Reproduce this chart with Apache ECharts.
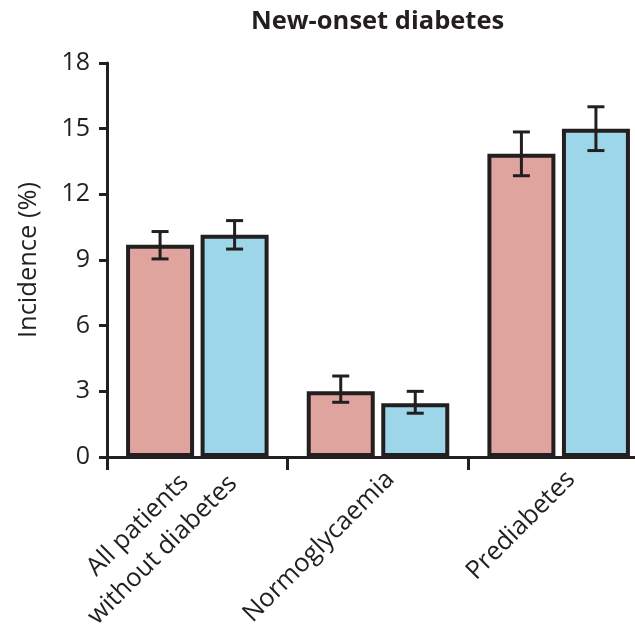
<!DOCTYPE html>
<html>
<head>
<meta charset="utf-8">
<title>New-onset diabetes</title>
<script src="https://cdn.jsdelivr.net/npm/echarts@6/dist/echarts.min.js"></script>
<style>
  html, body { margin: 0; padding: 0; background: #fff; }
  #chart { width: 635px; height: 625px; }
</style>
</head>
<body>
<div id="chart"></div>
<script>
// Subgroups on the x axis
const categories = ['All patients\nwithout diabetes', 'Normoglycaemia', 'Prediabetes'];

// Incidence of new-onset diabetes (%) for the two groups, with 95% CI bounds
const groupA = [9.7, 3.0, 13.85];
const groupALow = [9.05, 2.5, 12.85];
const groupAHigh = [10.3, 3.7, 14.85];

const groupB = [10.15, 2.45, 15.0];
const groupBLow = [9.5, 2.0, 14.0];
const groupBHigh = [10.8, 3.0, 16.0];

// Y axis scale
const yMin = 0;
const yMax = 18;
const yStep = 3;

const INK = '#231F20';
const FONT = 'Open Sans';
const FONT_SIZE = 25.5;
const LINE_H = 35;
const BAR_W = 68;
const BAR_GAP = 0.096;

function errorSeries(name, low, high, side) {
  const data = low.map((lo, i) => [i, lo, high[i]]);
  return {
    name: name,
    type: 'custom',
    z: 5,
    data: data,
    renderItem: function (params, api) {
      const shift = side * BAR_W * (1 + BAR_GAP) / 2;
      const pLo = api.coord([api.value(0), api.value(1)]);
      const pHi = api.coord([api.value(0), api.value(2)]);
      const x = pLo[0] + shift;
      const cap = 8.5;
      const style = { stroke: INK, lineWidth: 3, fill: null };
      return {
        type: 'group',
        children: [
          { type: 'line', shape: { x1: x, y1: pLo[1], x2: x, y2: pHi[1] }, style: style },
          { type: 'line', shape: { x1: x - cap, y1: pLo[1], x2: x + cap, y2: pLo[1] }, style: style },
          { type: 'line', shape: { x1: x - cap, y1: pHi[1], x2: x + cap, y2: pHi[1] }, style: style }
        ]
      };
    }
  };
}

// Two-line labels are centred line by line and nudged so they sit
// along the same diagonal as the single-line ones.
const xAxisData = categories.map(function (c) {
  if (c.indexOf('\n') < 0) return c;
  return {
    value: c,
    textStyle: { align: 'center', verticalAlign: 'middle', padding: [2 * (LINE_H - 15.6), 172, 0, 0] }
  };
});

const chart = echarts.init(document.getElementById('chart'), null, { renderer: 'canvas' });

chart.setOption({
  animation: false,
  backgroundColor: '#ffffff',
  title: {
    text: 'New-onset diabetes',
    left: 251,
    top: 9,
    padding: 0,
    textStyle: { fontFamily: FONT, fontWeight: 'bold', fontSize: FONT_SIZE, color: INK }
  },
  grid: {
    left: 107, top: 63, bottom: 168, right: -14,
    containLabel: false,
    outerBoundsMode: 'none'
  },
  xAxis: {
    type: 'category',
    data: xAxisData,
    axisLine: { show: true, lineStyle: { color: INK, width: 3 } },
    axisTick: { show: true, length: 13, lineStyle: { color: INK, width: 3 } },
    axisLabel: {
      rotate: 45,
      margin: 6,
      verticalAlign: 'top',
      color: INK,
      fontFamily: FONT,
      fontSize: FONT_SIZE,
      lineHeight: LINE_H,
      interval: 0,
      formatter: function (v) {
        return v.split('\n').map(s => '{c|' + s + '}').join('\n');
      },
      rich: { c: { align: 'center', fontFamily: FONT, fontSize: FONT_SIZE, color: INK, lineHeight: LINE_H } }
    },
    splitLine: { show: false }
  },
  yAxis: {
    type: 'value',
    min: yMin,
    max: yMax,
    interval: yStep,
    name: 'Incidence (%)',
    nameLocation: 'middle',
    nameGap: 65,
    nameTextStyle: { fontFamily: FONT, fontSize: FONT_SIZE, color: INK },
    axisLine: { show: true, lineStyle: { color: INK, width: 3 } },
    axisTick: { show: true, length: 8, lineStyle: { color: INK, width: 3 } },
    axisLabel: { margin: 17, color: INK, fontFamily: FONT, fontSize: 25 },
    splitLine: { show: false }
  },
  series: [
    {
      name: 'Group A',
      type: 'bar',
      data: groupA,
      barWidth: BAR_W,
      barGap: (BAR_GAP * 100) + '%',
      itemStyle: { color: '#E0A49F', borderColor: INK, borderWidth: 4 }
    },
    {
      name: 'Group B',
      type: 'bar',
      data: groupB,
      barWidth: BAR_W,
      barGap: (BAR_GAP * 100) + '%',
      itemStyle: { color: '#9ED6E9', borderColor: INK, borderWidth: 4 }
    },
    errorSeries('Group A CI', groupALow, groupAHigh, -1),
    errorSeries('Group B CI', groupBLow, groupBHigh, 1)
  ]
});
</script>
</body>
</html>
